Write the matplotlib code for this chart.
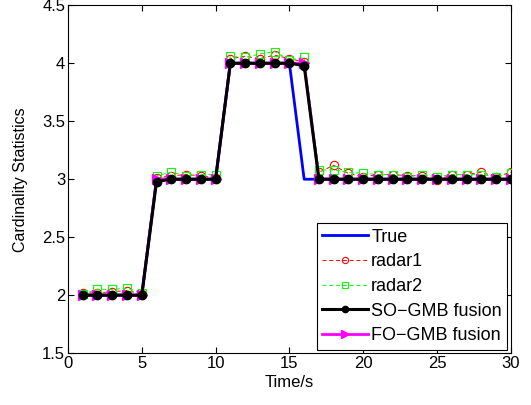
import matplotlib
matplotlib.use("Agg")
import matplotlib.pyplot as plt
import numpy as np

plt.rcParams['font.family'] = ['Liberation Sans', 'DejaVu Sans']

time = list(range(1, 31))
true_card = [2]*5 + [3]*5 + [4]*5 + [3]*15
radar1 = [2.02, 2.02, 2.03, 2.04, 2.01,
          3.01, 3.03, 3.04, 3.03, 3.01,
          4.04, 4.06, 4.04, 4.07, 4.04, 4.01,
          3.06, 3.12, 3.05, 3.02, 3.04, 3.04, 3.03, 3.03, 2.99, 3.04, 3.04, 3.06, 3.02, 3.06]
radar2 = [2.01, 2.05, 2.05, 2.06, 2.02,
          3.03, 3.06, 3.03, 3.04, 3.04,
          4.06, 4.05, 4.08, 4.10, 4.03, 4.05,
          3.08, 3.08, 3.06, 3.05, 3.04, 3.04, 3.02, 3.04, 3.02, 3.04, 3.04, 3.04, 3.02, 3.05]
so_gmb = [2]*5 + [2.98, 3, 3, 3, 3] + [4, 4, 4, 4, 4, 3.98] + [3]*14
fo_gmb = [2]*5 + [3]*5 + [4]*6 + [3]*14

fig = plt.figure(figsize=(5.31, 4.05), dpi=100)
ax = fig.add_axes([0.128, 0.128, 0.834, 0.859])

ax.plot(time, true_card, color='#0000ff', lw=2, label='True', zorder=2)
ax.plot(time, radar1, color='#ff0000', lw=0.7, ls=(0, (4, 3)), marker='o', ms=6,
        mfc='none', mec='#ff0000', mew=0.8, label='radar1', zorder=3)
ax.plot(time, radar2, color='#00ff00', lw=0.7, ls=(0, (4, 3)), marker='s', ms=5.5,
        mfc='none', mec='#00ff00', mew=0.8, label='radar2', zorder=3)
ax.plot(time, fo_gmb, color='#ff00ff', lw=2, marker='>', ms=7, mfc='#ff00ff',
        mec='#ff00ff', label='FO-GMB fusion', zorder=4)
ax.plot(time, so_gmb, color='black', lw=2.2, marker='o', ms=6, mfc='black',
        mec='black', label='SO-GMB fusion', zorder=5)

ax.set_xlim(0, 30)
ax.set_ylim(1.5, 4.5)
ax.set_xticks([0, 5, 10, 15, 20, 25, 30])
ax.set_yticks([1.5, 2, 2.5, 3, 3.5, 4, 4.5])
ax.set_yticklabels(['1.5', '2', '2.5', '3', '3.5', '4', '4.5'])
ax.tick_params(direction='in', top=True, right=True, labelsize=12, length=4, width=0.8, pad=2)
ax.set_xlabel('Time/s', fontsize=12, labelpad=3)
ax.set_ylabel('Cardinality Statistics', fontsize=11.5, labelpad=10)
for s in ax.spines.values():
    s.set_linewidth(0.8)

handles, labels = ax.get_legend_handles_labels()
order = [0, 1, 2, 4, 3]
leg = ax.legend([handles[i] for i in order],
                ['True', 'radar1', 'radar2', 'SO\u2212GMB fusion', 'FO\u2212GMB fusion'],
                loc='lower right', fontsize=13, frameon=True, fancybox=False,
                edgecolor='black', framealpha=1, borderpad=0.3, labelspacing=0.42,
                handlelength=2.5, handletextpad=0.2, borderaxespad=0.2, markerscale=0.75)
leg.get_frame().set_linewidth(0.8)

fig.savefig('out.png', dpi=100)
